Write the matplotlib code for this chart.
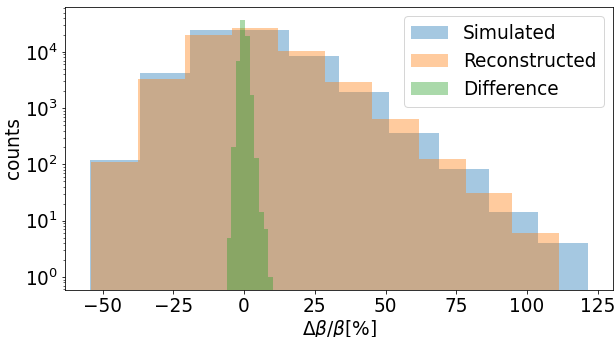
import numpy as np
import matplotlib
matplotlib.use("Agg")
import matplotlib.pyplot as plt

# === DATA ===
# bin edges (in %) and counts per bin for each histogram
sim_edges = np.linspace(-54.4, 121.6, 11)
sim_counts = [119, 4170, 24500, 24500, 8500, 1960, 367, 84, 14, 4]

rec_edges = np.linspace(-54.0, 111.3, 11)
rec_counts = [111, 3300, 20000, 26900, 10400, 2960, 635, 127, 31, 6]

diff_edges = np.linspace(-6.2, 10.2, 11)
diff_counts = [5, 200, 6900, 36900, 19200, 1710, 132, 14, 7, 1]

# === PLOT ===
plt.rcParams["font.size"] = 18.5
fig, ax = plt.subplots(figsize=(615 / 72, 337 / 72), dpi=72)
fig.subplots_adjust(left=0.106, right=0.997, top=0.979, bottom=0.14)

ax.hist(sim_edges[:-1], bins=sim_edges, weights=sim_counts, alpha=0.4,
        log=True, label="Simulated")
ax.hist(rec_edges[:-1], bins=rec_edges, weights=rec_counts, alpha=0.4,
        log=True, label="Reconstructed")
ax.hist(diff_edges[:-1], bins=diff_edges, weights=diff_counts, alpha=0.4,
        log=True, label="Difference")

ax.set_xlabel(r"$\Delta\beta/\beta[\%]$", labelpad=2)
ax.set_ylabel("counts", labelpad=2)
ax.legend(loc="upper right")

fig.savefig("out.png")
